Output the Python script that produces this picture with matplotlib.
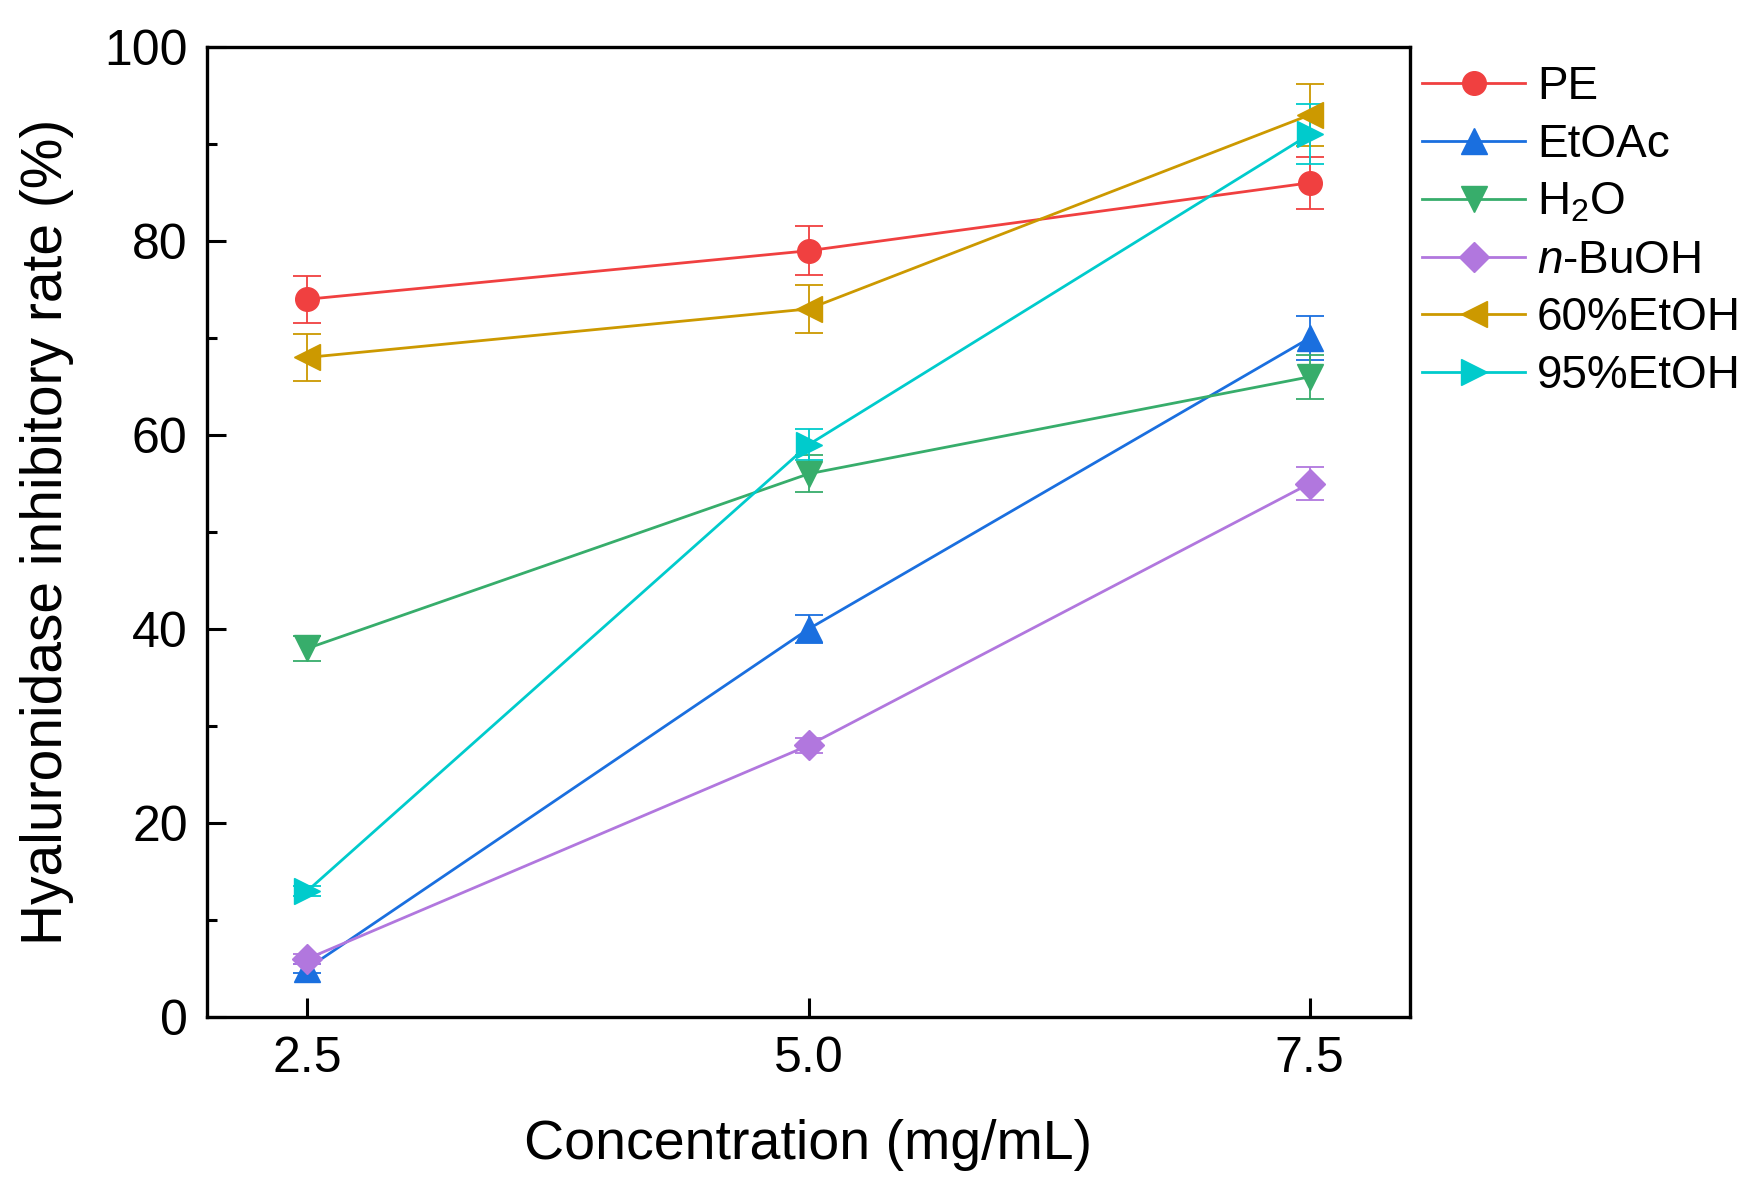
import matplotlib
matplotlib.use("Agg")
import matplotlib.pyplot as plt
from matplotlib.ticker import MultipleLocator, FixedLocator

plt.rcParams['font.family'] = ['Liberation Sans', 'DejaVu Sans']
plt.rcParams['mathtext.fontset'] = 'custom'
plt.rcParams['mathtext.rm'] = 'Liberation Sans'
plt.rcParams['mathtext.it'] = 'Liberation Sans:italic'

conc = [2.5, 5.0, 7.5]
labels = ["PE", "EtOAc", "H$_2$O", "$\\it{n}$-BuOH", "60%EtOH", "95%EtOH"]
pe = [74, 79, 86]
pe_err = [2.4, 2.5, 2.7]
etoac = [5, 40, 70]
etoac_err = [0.5, 1.4, 2.3]
h2o = [38, 56, 66]
h2o_err = [1.3, 1.9, 2.3]
buoh = [6, 28, 55]
buoh_err = [0.5, 0.8, 1.7]
etoh60 = [68, 73, 93]
etoh60_err = [2.4, 2.5, 3.2]
etoh95 = [13, 59, 91]
etoh95_err = [0.5, 1.6, 3.1]

series = [pe, etoac, h2o, buoh, etoh60, etoh95]
errors = [pe_err, etoac_err, h2o_err, buoh_err, etoh60_err, etoh95_err]
colors = ["#F04040", "#1A6FDF", "#37AD6B", "#B177DE", "#CC9900", "#00CBCC"]
markers = ["o", "^", "v", "D", "<", ">"]
msizes = [17, 19, 19, 15, 19, 19]

fig = plt.figure(figsize=(17.55, 12), dpi=100)
ax = fig.add_axes([0.118, 0.1525, 0.6854, 0.8083])

handles = []
for y, e, c, m, ms, lab in zip(series, errors, colors, markers, msizes, labels):
    cont = ax.errorbar(conc, y, yerr=e, color=c, marker=m, markersize=ms, linewidth=2.0,
                       elinewidth=1.3, capsize=10, capthick=1.3, label=lab)
    handles.append(cont[0])

ax.set_xlim(2.0, 8.0)
ax.set_ylim(0, 100)
ax.xaxis.set_major_locator(FixedLocator(conc))
ax.set_xticklabels(["2.5", "5.0", "7.5"])
ax.yaxis.set_major_locator(MultipleLocator(20))
ax.yaxis.set_minor_locator(MultipleLocator(10))
ax.tick_params(axis='both', which='major', direction='in', length=14, width=2.2,
               labelsize=36, pad=14)
ax.tick_params(axis='y', which='minor', direction='in', length=7, width=2.2)
for s in ax.spines.values():
    s.set_linewidth(2.4)

ax.set_xlabel("Concentration (mg/mL)", fontsize=40, labelpad=26)
ax.set_ylabel("Hyaluronidase inhibitory rate (%)", fontsize=41, labelpad=22)

leg = ax.legend(handles, labels, loc='upper left', bbox_to_anchor=(0.995, 1.0), frameon=False,
                fontsize=33, handlelength=2.25, handletextpad=0.25,
                labelspacing=0.3, borderaxespad=0.2, borderpad=0.2)

fig.savefig("out.png", dpi=100)
